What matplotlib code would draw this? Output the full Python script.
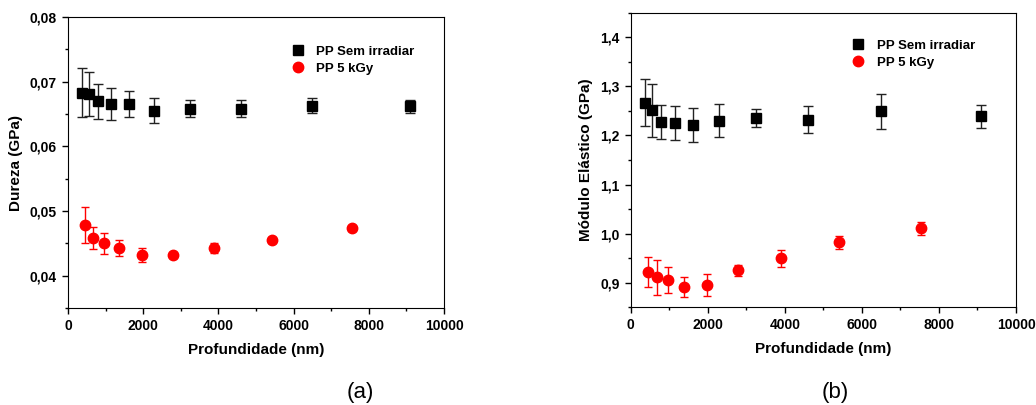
import numpy as np
import matplotlib.pyplot as plt
from matplotlib.ticker import MultipleLocator, FuncFormatter
from matplotlib.lines import Line2D

plt.rcParams['font.family'] = ['Liberation Sans', 'DejaVu Sans']

# profundidade (nm)
x_sem = [380, 550, 790, 1140, 1625, 2300, 3255, 4600, 6500, 9100]
x_5k = [450, 670, 960, 1370, 1975, 2790, 3890, 5415, 7545]

# (a) dureza (GPa)
h_sem = [0.0683, 0.0681, 0.0670, 0.0665, 0.0665, 0.0655, 0.0658, 0.0658, 0.0663, 0.0662]
h_sem_err = [0.0038, 0.0034, 0.0027, 0.0025, 0.0020, 0.0019, 0.0013, 0.0013, 0.0012, 0.0010]
h_5k = [0.0478, 0.0458, 0.0450, 0.0443, 0.0432, 0.0432, 0.0443, 0.0455, 0.0473]
h_5k_err = [0.0028, 0.0017, 0.0016, 0.0012, 0.0011, 0.0004, 0.0008, 0.0005, 0.0004]

# (b) modulo elastico (GPa)
e_sem = [1.267, 1.251, 1.227, 1.225, 1.221, 1.230, 1.236, 1.232, 1.249, 1.239]
e_sem_err = [0.048, 0.054, 0.034, 0.035, 0.034, 0.034, 0.018, 0.027, 0.035, 0.024]
e_5k = [0.922, 0.911, 0.906, 0.891, 0.895, 0.925, 0.950, 0.982, 1.011]
e_5k_err = [0.030, 0.036, 0.026, 0.020, 0.022, 0.012, 0.017, 0.014, 0.013]

fig = plt.figure(figsize=(10.36, 4.05), dpi=100)
ax1 = fig.add_axes([0.0656, 0.2395, 0.363, 0.7185])
ax2 = fig.add_axes([0.6088, 0.2412, 0.3719, 0.7275])

comma = lambda fmt: FuncFormatter(lambda v, p: (fmt % v).replace('.', ','))

def draw(ax, ys, ys_err, yr, yr_err, leg_pos):
    ax.errorbar(x_sem, ys, yerr=ys_err, fmt='s', color='black', ecolor='#222222',
                ms=7, elinewidth=1, capsize=3.5, capthick=1)
    ax.errorbar(x_5k, yr, yerr=yr_err, fmt='o', color='red', ecolor='red',
                ms=7.5, elinewidth=1, capsize=3, capthick=1)
    ax.set_xlim(0, 10000)
    ax.xaxis.set_major_locator(MultipleLocator(2000))
    ax.xaxis.set_minor_locator(MultipleLocator(1000))
    ax.tick_params(which='both', direction='out', top=False, right=False,
                   labelsize=10, width=1)
    ax.tick_params(which='major', length=4.5)
    ax.tick_params(which='minor', length=2.5)
    ax.set_xlabel('Profundidade (nm)', fontsize=11, fontweight='bold', labelpad=7)
    handles = [Line2D([], [], ls='none', marker='s', color='black', ms=7),
               Line2D([], [], ls='none', marker='o', color='red', ms=7.5)]
    leg = ax.legend(handles, ['PP Sem irradiar', 'PP 5 kGy'], loc='upper right',
                    bbox_to_anchor=leg_pos, frameon=False, fontsize=9.5,
                    handletextpad=0.9, labelspacing=0.35, handlelength=1.0,
                    borderpad=0.2)
    for t in leg.get_texts():
        t.set_fontweight('bold')

draw(ax1, h_sem, h_sem_err, h_5k, h_5k_err, (0.946, 0.934))
ax1.set_ylim(0.035, 0.08)
ax1.yaxis.set_major_locator(MultipleLocator(0.01))
ax1.yaxis.set_minor_locator(MultipleLocator(0.005))
ax1.yaxis.set_major_formatter(comma('%.2f'))
ax1.set_ylabel('Dureza (GPa)', fontsize=11, fontweight='bold', labelpad=5)

draw(ax2, e_sem, e_sem_err, e_5k, e_5k_err, (0.918, 0.94))
ax2.set_ylim(0.85, 1.45)
ax2.yaxis.set_major_locator(MultipleLocator(0.1))
ax2.yaxis.set_minor_locator(MultipleLocator(0.05))
ax2.yaxis.set_major_formatter(comma('%.1f'))
ax2.set_ylabel('Módulo Elástico (GPa)', fontsize=11, fontweight='bold', labelpad=5)

for ax in (ax1, ax2):
    for lab in ax.get_xticklabels() + ax.get_yticklabels():
        lab.set_fontweight('bold')

fig.text(0.348, 0.03, '(a)', fontsize=16, ha='center', va='center')
fig.text(0.806, 0.03, '(b)', fontsize=16, ha='center', va='center')

fig.savefig('out.png', dpi=100)
